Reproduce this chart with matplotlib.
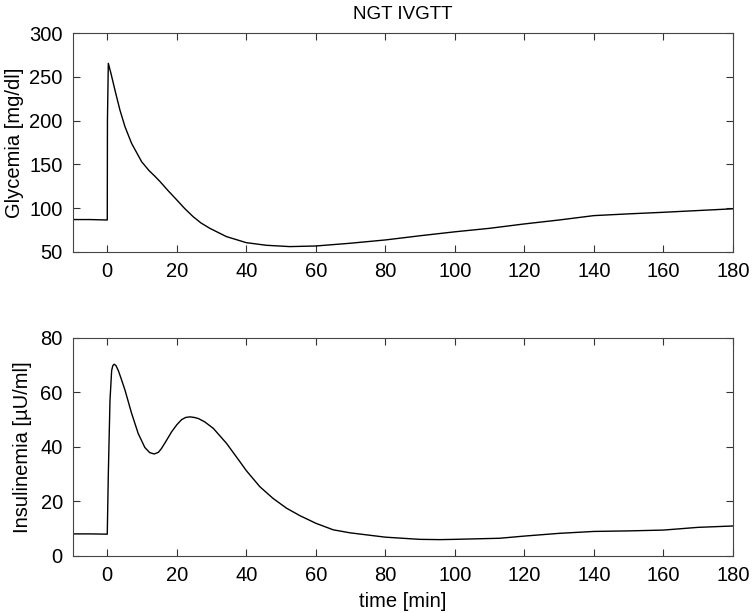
import matplotlib
matplotlib.use('agg')
import matplotlib.pyplot as plt
import numpy as np

plt.rcParams['font.family'] = ['Liberation Sans', 'DejaVu Sans']

# glycemia curve
t_gly = [-10, -5, 0, 0.05, 0.3, 1.06, 2.2, 3.65, 5.1, 7, 9.9, 12, 13.7, 15.2, 17.5, 20,
         22.3, 24.7, 27, 29.5, 34.3, 40, 45.8, 52.5, 60, 69.8, 80, 90, 100, 110, 120, 130,
         140, 150, 160, 170, 180]
gly = [87, 87, 86.5, 200, 265.5, 254, 235, 212, 193, 174, 153, 143, 136.5, 130.3, 120, 109.4,
       99.5, 90.3, 83, 77, 67.5, 60.6, 57.6, 56.1, 56.8, 59.9, 63.7, 68.5, 73, 77, 82, 86.5,
       91.5, 93.5, 95.3, 97.3, 99.3]

# insulinemia curve
t_ins = [-10, -5, 0, 0.3, 0.78, 1.26, 1.6, 2.0, 2.5, 3.17, 4, 5.1, 7.0, 8.9, 10.8, 12.2,
         13.5, 14.7, 15.6, 17, 18.5, 20, 21.4, 22.6, 23.8, 25, 26.2, 28, 30.5, 34.3, 38.2,
         40, 43.9, 47.7, 51.6, 55.4, 60, 65, 69.8, 80, 89.9, 95.7, 100, 112.9, 120, 130,
         140, 150, 160, 170, 180]
ins = [8.1, 8.1, 8.0, 30, 57, 68, 69.8, 70.3, 69.8, 68, 65, 60.8, 52.3, 44.9, 39.8, 37.9,
       37.4, 38, 39.4, 42.3, 45.5, 48.1, 50, 50.8, 51, 50.8, 50.4, 49.2, 46.8, 41.3, 34.5,
       31.3, 25.4, 21.1, 17.5, 14.8, 12, 9.6, 8.5, 6.9, 6.1, 6.0, 6.1, 6.5, 7.3, 8.3,
       9.0, 9.2, 9.5, 10.5, 11]

x_ticks = [0, 20, 40, 60, 80, 100, 120, 140, 160, 180]

fig = plt.figure(figsize=(7.53, 6.13), dpi=100)
ax1 = fig.add_axes([0.0963, 0.589, 0.877, 0.357])
ax2 = fig.add_axes([0.0963, 0.093, 0.877, 0.356])

for ax in (ax1, ax2):
    ax.set_xlim(-10, 180)
    ax.set_xticks(x_ticks)
    ax.tick_params(direction='in', top=True, right=True, length=5, width=0.8,
                   labelsize=14.5, colors='#333333', labelcolor='black', pad=7)
    for s in ax.spines.values():
        s.set_color('#444444')
        s.set_linewidth(0.8)

ax1.plot(t_gly, gly, color='black', linewidth=1)
ax1.set_ylim(50, 300)
ax1.set_yticks([50, 100, 150, 200, 250, 300])
ax1.set_ylabel('Glycemia [mg/dl]', fontsize=14.5, labelpad=4)
ax1.set_title('NGT IVGTT', fontsize=13.5, pad=10)

ax2.plot(t_ins, ins, color='black', linewidth=1)
ax2.set_ylim(0, 80)
ax2.set_yticks([0, 20, 40, 60, 80])
ax2.set_ylabel('Insulinemia [\u00b5U/ml]', fontsize=14.5, labelpad=6)
ax2.set_xlabel('time [min]', fontsize=14.5, labelpad=5)

fig.savefig('out.png', dpi=100)
